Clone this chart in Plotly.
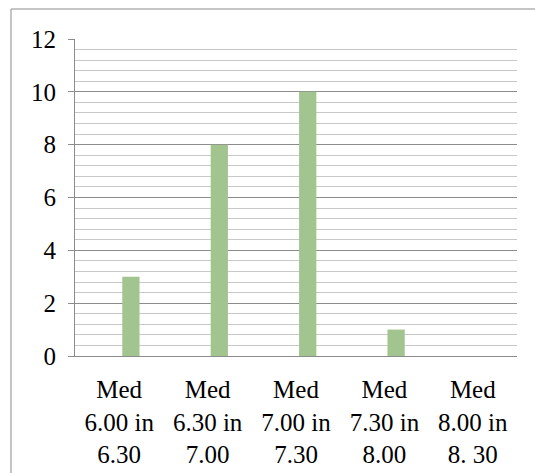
import plotly.graph_objects as go

categories = ["Med<br>6.00 in<br>6.30", "Med<br>6.30 in<br>7.00", "Med<br>7.00 in<br>7.30",
              "Med<br>7.30 in<br>8.00", "Med<br>8.00 in<br>8. 30"]
values = [3, 8, 10, 1, 0]
y_ticks = [0, 2, 4, 6, 8, 10, 12]

font_family = "Liberation Serif"

fig = go.Figure(go.Bar(x=categories, y=values, marker=dict(color="#A2C48F", line=dict(width=0)),
                       width=0.195, offset=0.035, hoverinfo="skip"))

fig.update_layout(
    width=535, height=473,
    margin=dict(l=75, r=18, t=39, b=117, autoexpand=False),
    paper_bgcolor="white", plot_bgcolor="white",
    showlegend=False,
    font=dict(family=font_family, size=25, color="black"),
)
fig.update_yaxes(
    range=[0, 12], tickvals=y_ticks, showgrid=True, gridcolor="#8C8C8C", gridwidth=1,
    minor=dict(dtick=0.4, showgrid=True, gridcolor="#C8C8C8", gridwidth=1, ticks=""),
    ticks="outside", ticklen=6, tickcolor="#8C8C8C", showline=True, linecolor="#8C8C8C",
    linewidth=1, zeroline=False, ticklabelstandoff=7, automargin=False,
    tickfont=dict(family=font_family, size=25, color="black"),
)
fig.update_xaxes(
    showline=True, linecolor="#8C8C8C", linewidth=1, ticks="", showgrid=False, automargin=False,
    tickfont=dict(family=font_family, size=25, color="black"), tickangle=0,
    ticklabelstandoff=11,
)
# outer chart frame: only its left and top edges fall inside the picture
border = dict(color="#8C8C8C", width=1)
fig.add_shape(type="line", xref="paper", yref="paper", x0=-0.1448, y0=-0.5, x1=-0.1448, y1=1.0946,
              line=border, layer="below")
fig.add_shape(type="line", xref="paper", yref="paper", x0=-0.1448, y0=1.0946, x1=1.2, y1=1.0946,
              line=border, layer="below")

fig.write_html(
    "out.html",
    config={"displayModeBar": False},
    post_script="document.body.style.margin='0';document.body.style.overflow='hidden';",
)
